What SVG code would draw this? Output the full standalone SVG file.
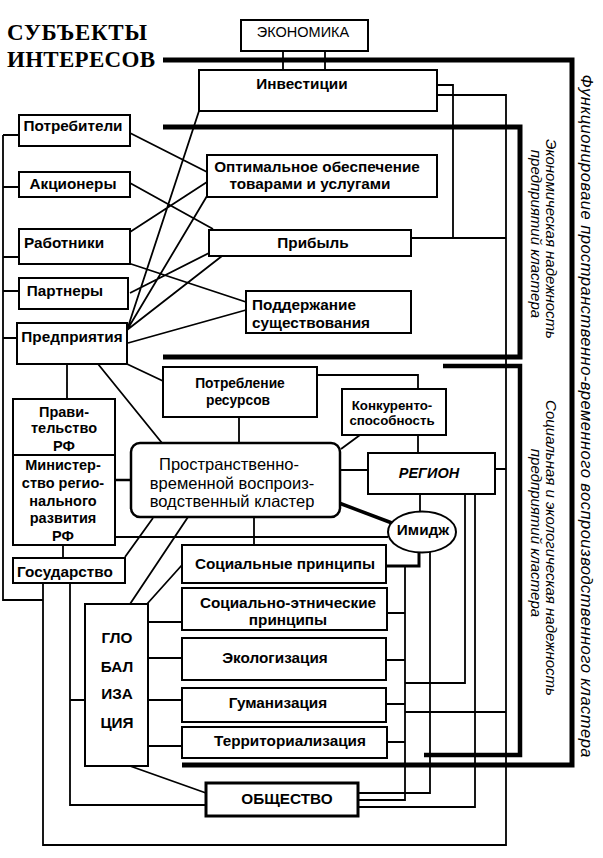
<svg xmlns="http://www.w3.org/2000/svg" width="603" height="858" viewBox="0 0 603 858">
<style>
text{font-family:"Liberation Sans",Arial,sans-serif;fill:#000}
.b{font-weight:bold;font-size:15.3px}
.r{font-size:15px}
.m{text-anchor:middle}
.box{fill:#fff;stroke:#000;stroke-width:2}
.ln{fill:none;stroke:#000;stroke-width:1.8}
.tk{fill:none;stroke:#000;stroke-width:5}
.vt{font-style:italic;font-size:15px;text-anchor:middle}
.ttl{font-family:"Liberation Serif","Times New Roman",serif;font-weight:bold;font-size:23px}
</style>
<rect width="603" height="858" fill="#fff"/>
<g id="title"><text class="ttl" x="7" y="40" textLength="140">СУБЪЕКТЫ</text><text class="ttl" x="7" y="67" textLength="148">ИНТЕРЕСОВ</text></g>
<g id="connectors">
<path class="tk" d="M163,60 H572 V765 H182"/>
<path class="tk" d="M163,127 H520 V357 H163"/>
<path class="tk" d="M443,366 H520 V755 H424" style="stroke-width:4.5"/>
<path class="ln" d="M283,51 V70 M325,51 V70"/>
<path class="ln" d="M437,85 H453 V238 M411,238 H506 M43,583 V845 H506 V95 H437 M495,469 H506"/>
<path class="ln" d="M3,135 V600 H43 M3,135 H19 M3,187 H19 M3,257 H19 M3,291 H19 M3,338 H17"/>
<path class="ln" d="M130,133 L207,172 M130,183 L213,229 M130,232 L207,182 M128,263 L246,302 M130,293 L209,253 M127,330 L199,111 M127,330 L207,196 M127,330 L222,256 M128,343 L246,310"/>
<path class="ln" d="M127,364 L163,381 M98,364 L162,443 M67,364 V399 M239,417 V443 M317,375 H418 V389 M418,435 V453 M360,435 L341,449 M340,470 H368 M420,494 V512"/>
<path class="ln" d="M339,503 L392,523" style="stroke-width:3.5"/>
<path class="ln" d="M115,480 H131" style="stroke-width:2.5"/>
<path class="ln" d="M115,537 H388 M254,517 V545 M63,545 V558 M125,557 L153,518 M188,517 L130,604 M182,565 L147,604"/>
<path class="ln" d="M148,622 H182 M148,658 H182 M148,700 H182 M148,746 H182 M70,583 V805 H206 M70,700 H85 M130,766 L206,793"/>
<path class="ln" d="M386,566 H419 V553" style="stroke-width:3"/>
<path class="ln" d="M405,566 V800 H358 M387,613 H405 M386,660 H405 M386,704 H405 M387,742 H405 M430,552 V793 H358 M465,494 V683 H405 M475,494 V807 H358 M405,712 H506"/>
</g>
<g id="n-ekonomika"><rect class="box" x="241" y="20" width="127" height="31"/><text class="r m" x="303" y="37" style="font-size:14.5px">ЭКОНОМИКА</text></g>
<g id="n-investicii"><rect class="box" x="199" y="70" width="238" height="41"/><text class="b m" x="302" y="89">Инвестиции</text></g>
<g id="n-potrebiteli"><rect class="box" x="19" y="115" width="111" height="31"/><text class="b m" x="73" y="131">Потребители</text></g>
<g id="n-akcionery"><rect class="box" x="19" y="172" width="111" height="25"/><text class="b m" x="73" y="189">Акционеры</text></g>
<g id="n-rabotniki"><rect class="box" x="19" y="229" width="111" height="35"/><text class="b m" x="64" y="248">Работники</text></g>
<g id="n-partnery"><rect class="box" x="19" y="278" width="109" height="31"/><text class="b m" x="65" y="296">Партнеры</text></g>
<g id="n-predpriyatiya"><rect class="box" x="17" y="323" width="110" height="41"/><text class="b m" x="72" y="342">Предприятия</text></g>
<g id="n-optimalnoe"><rect class="box" x="207" y="155" width="230" height="42"/><text class="b m" x="317" y="172">Оптимальное обеспечение</text><text class="b m" x="310" y="189">товарами и услугами</text></g>
<g id="n-pribyl"><rect class="box" x="209" y="230" width="202" height="26"/><text class="b m" x="313" y="248">Прибыль</text></g>
<g id="n-podderzhanie"><rect class="box" x="246" y="291" width="165" height="42"/><text class="b" x="252" y="310">Поддержание</text><text class="b" x="252" y="328">существования</text></g>
<g id="n-potreblenie"><rect class="box" x="163" y="367" width="154" height="50"/><text class="b m" x="240" y="388" style="font-size:13.8px">Потребление</text><text class="b m" x="238" y="405" style="font-size:13.8px">ресурсов</text></g>
<g id="n-konkurento"><rect class="box" x="342" y="389" width="104" height="46"/><text class="b m" x="392" y="410" style="font-size:13.3px">Конкуренто-</text><text class="b m" x="392" y="425" style="font-size:13.3px">способность</text></g>
<g id="n-klaster"><rect class="box" x="131" y="443" width="209" height="74" rx="9" style="stroke-width:2.5"/><text class="m" x="229" y="470" style="font-size:16.5px">Пространственно-</text><text class="m" x="232" y="489" style="font-size:16.5px">временной воспроиз-</text><text class="m" x="232" y="507" style="font-size:16.5px">водственный кластер</text></g>
<g id="n-region"><rect class="box" x="368" y="453" width="127" height="41"/><text class="b m" x="429" y="478" style="font-style:italic;font-size:14.5px">РЕГИОН</text></g>
<g id="n-imidzh"><ellipse class="box" cx="422" cy="532" rx="34" ry="20.5"/><text class="b m" x="423" y="535">Имидж</text></g>
<g id="n-pravitelstvo"><rect class="box" x="13" y="399" width="102" height="56"/><text class="b m" x="64" y="417" style="font-size:14.5px">Прави-</text><text class="b m" x="64" y="433" style="font-size:14.5px">тельство</text><text class="b m" x="64" y="451" style="font-size:14.5px">РФ</text></g>
<g id="n-ministerstvo"><rect class="box" x="13" y="455" width="102" height="90"/><text class="b m" x="63" y="470" style="font-size:14.5px">Министер-</text><text class="b m" x="63" y="488" style="font-size:14.5px">ство регио-</text><text class="b m" x="63" y="506" style="font-size:14.5px">нального</text><text class="b m" x="63" y="523" style="font-size:14.5px">развития</text><text class="b m" x="63" y="541" style="font-size:14.5px">РФ</text></g>
<g id="n-gosudarstvo"><rect class="box" x="13" y="558" width="112" height="25"/><text class="b m" x="65" y="577">Государство</text></g>
<g id="n-globalizaciya"><rect class="box" x="85" y="604" width="63" height="162"/><text class="b m" x="117" y="643">ГЛО</text><text class="b m" x="117" y="672">БАЛ</text><text class="b m" x="117" y="699">ИЗА</text><text class="b m" x="117" y="728">ЦИЯ</text></g>
<g id="n-socialnye"><rect class="box" x="182" y="545" width="204" height="38"/><text class="b m" x="285" y="569">Социальные принципы</text></g>
<g id="n-socetnich"><rect class="box" x="182" y="588" width="205" height="42"/><text class="b m" x="288" y="608">Социально-этнические</text><text class="b m" x="288" y="625">принципы</text></g>
<g id="n-ekologizaciya"><rect class="box" x="182" y="638" width="204" height="42"/><text class="b m" x="275" y="663">Экологизация</text></g>
<g id="n-gumanizaciya"><rect class="box" x="182" y="688" width="204" height="34"/><text class="b m" x="278" y="708">Гуманизация</text></g>
<g id="n-territorializaciya"><rect class="box" x="182" y="727" width="205" height="31"/><text class="b m" x="290" y="746">Территориализация</text></g>
<g id="n-obshchestvo"><rect class="box" x="206" y="783" width="152" height="33" style="stroke-width:3"/><text class="b m" x="287" y="804">ОБЩЕСТВО</text></g>
<g id="labels">
<text class="vt" transform="translate(581,416) rotate(90)" style="font-size:16.5px" textLength="683">Функционироваие пространственно-временного воспроизводственного кластера</text>
<text class="vt" transform="translate(546,239) rotate(90)">Экономическая надежность</text>
<text class="vt" transform="translate(531,234) rotate(90)">предприятий кластера</text>
<text class="vt" transform="translate(546,548) rotate(90)">Социальная и экологическая надежность</text>
<text class="vt" transform="translate(531,533) rotate(90)">предприятий кластера</text>
</g>
</svg>
